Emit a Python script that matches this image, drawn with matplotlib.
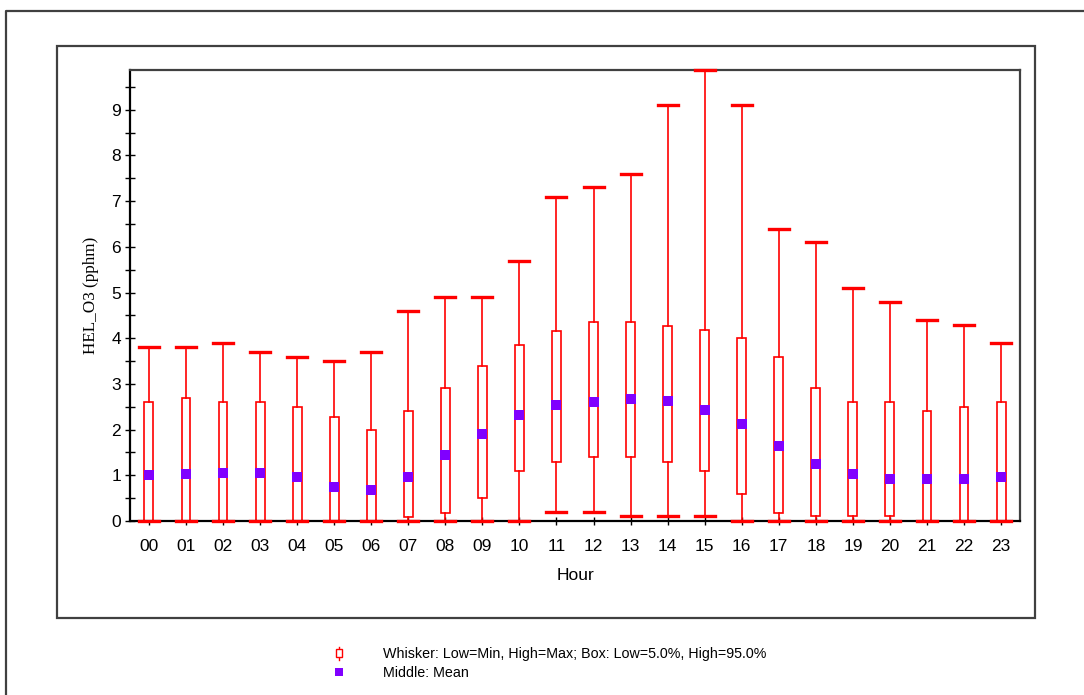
import numpy as np
import matplotlib
matplotlib.use('Agg')
from matplotlib import pyplot as plt
from matplotlib.lines import Line2D
from matplotlib.patches import Rectangle

hours = ['00', '01', '02', '03', '04', '05', '06', '07', '08', '09', '10', '11',
         '12', '13', '14', '15', '16', '17', '18', '19', '20', '21', '22', '23']
low_min = [0, 0, 0, 0, 0, 0, 0, 0, 0, 0, 0, 0.2,
           0.2, 0.1, 0.1, 0.1, 0, 0, 0, 0, 0, 0, 0, 0]
box_low = [0, 0, 0, 0, 0, 0, 0, 0.08, 0.17, 0.5, 1.1, 1.3,
           1.4, 1.4, 1.3, 1.1, 0.6, 0.18, 0.1, 0.1, 0.1, 0, 0, 0]
box_high = [2.6, 2.7, 2.6, 2.6, 2.5, 2.28, 2.0, 2.4, 2.9, 3.4, 3.85, 4.15,
            4.35, 4.36, 4.27, 4.18, 4.0, 3.6, 2.9, 2.6, 2.6, 2.4, 2.5, 2.6]
high_max = [3.8, 3.8, 3.9, 3.7, 3.6, 3.5, 3.7, 4.6, 4.9, 4.9, 5.7, 7.1,
            7.3, 7.6, 9.1, 9.88, 9.1, 6.4, 6.1, 5.1, 4.8, 4.4, 4.3, 3.9]
means = [1.0, 1.03, 1.06, 1.06, 0.97, 0.75, 0.68, 0.97, 1.44, 1.91, 2.31, 2.53,
         2.6, 2.68, 2.62, 2.43, 2.12, 1.65, 1.24, 1.02, 0.93, 0.93, 0.93, 0.97]

RED = '#ff0000'
PURPLE = '#8000ff'
FRAME = '#404040'

W, H = 1084, 695
fig = plt.figure(figsize=(W / 100, H / 100), dpi=100)
fig.patch.set_facecolor('white')

def fx(px):
    return px / W

def fy(py):
    return 1 - py / H

# frames around the chart
fig.add_artist(Line2D([fx(6), fx(6), 1.0], [0.0, fy(11), fy(11)], color=FRAME, lw=1.6))
fig.add_artist(Rectangle((fx(57), fy(618)), fx(1035) - fx(57), fy(46) - fy(618),
                         fill=False, edgecolor=FRAME, lw=1.6))

ax = fig.add_axes([fx(130), fy(521), fx(1020) - fx(130), fy(70) - fy(521)])

stats = []
for i in range(len(hours)):
    stats.append({'whislo': low_min[i], 'q1': box_low[i], 'med': means[i],
                  'q3': box_high[i], 'whishi': high_max[i], 'mean': means[i],
                  'fliers': [], 'label': hours[i]})

pos = np.arange(len(hours))
art = ax.bxp(stats, positions=pos, widths=0.24, capwidths=0.54,
             patch_artist=True, showmeans=True, showfliers=False,
             boxprops=dict(facecolor='white', edgecolor=RED, lw=1.2),
             whiskerprops=dict(color=RED, lw=1.2),
             capprops=dict(color=RED, lw=2.4),
             medianprops=dict(lw=0),
             meanprops=dict(marker='s', markersize=6.8, markerfacecolor=PURPLE,
                            markeredgecolor=PURPLE, markeredgewidth=0))
for c in art['caps']:
    c.set_clip_on(False)
    c.set_zorder(5)
for w in art['whiskers']:
    w.set_clip_on(False)

ax.set_xlim(-0.51, 23.51)
ax.set_ylim(0, 9.87)
ax.set_yticks(range(10))
ax.set_yticks(np.arange(0.5, 9.9, 1.0), minor=True)
ax.set_xticks(pos)
ax.set_xticklabels(hours)

sans = ['Liberation Sans Narrow', 'Liberation Sans', 'DejaVu Sans']
for lab in ax.get_xticklabels() + ax.get_yticklabels():
    lab.set_fontfamily(sans)
    lab.set_fontsize(12.5)

ax.tick_params(axis='both', which='both', direction='inout', color='black', width=1.0)
ax.tick_params(axis='y', which='major', length=7, pad=3)
ax.tick_params(axis='y', which='minor', length=7)
ax.tick_params(axis='x', which='major', length=6, pad=10)

for s in ax.spines.values():
    s.set_color(FRAME)
    s.set_linewidth(1.6)
ax.spines['bottom'].set_color('black')
ax.spines['left'].set_color('black')

ax.set_xlabel('Hour', family=sans, fontsize=12.5, labelpad=10)
ax.set_ylabel('HEL_O3 (pphm)', family=['Liberation Serif', 'DejaVu Serif'],
              fontsize=12.3, labelpad=9)

# legend below the chart
fig.add_artist(Line2D([fx(339), fx(339)], [fy(647), fy(660)], color=RED, lw=1.0))
fig.add_artist(Rectangle((fx(336), fy(657)), fx(6), fy(649) - fy(657),
                         facecolor='white', edgecolor=RED, lw=1.0, zorder=3))
fig.add_artist(Rectangle((fx(335), fy(676)), fx(8), fy(668) - fy(676),
                         facecolor=PURPLE, edgecolor='none'))
fig.text(fx(383), fy(654), 'Whisker: Low=Min, High=Max; Box: Low=5.0%, High=95.0%',
         family=['Liberation Sans', 'DejaVu Sans'], fontsize=10.3, va='center', ha='left')
fig.text(fx(383), fy(673), 'Middle: Mean',
         family=['Liberation Sans', 'DejaVu Sans'], fontsize=10.3, va='center', ha='left')

fig.savefig('out.png', dpi=100)
